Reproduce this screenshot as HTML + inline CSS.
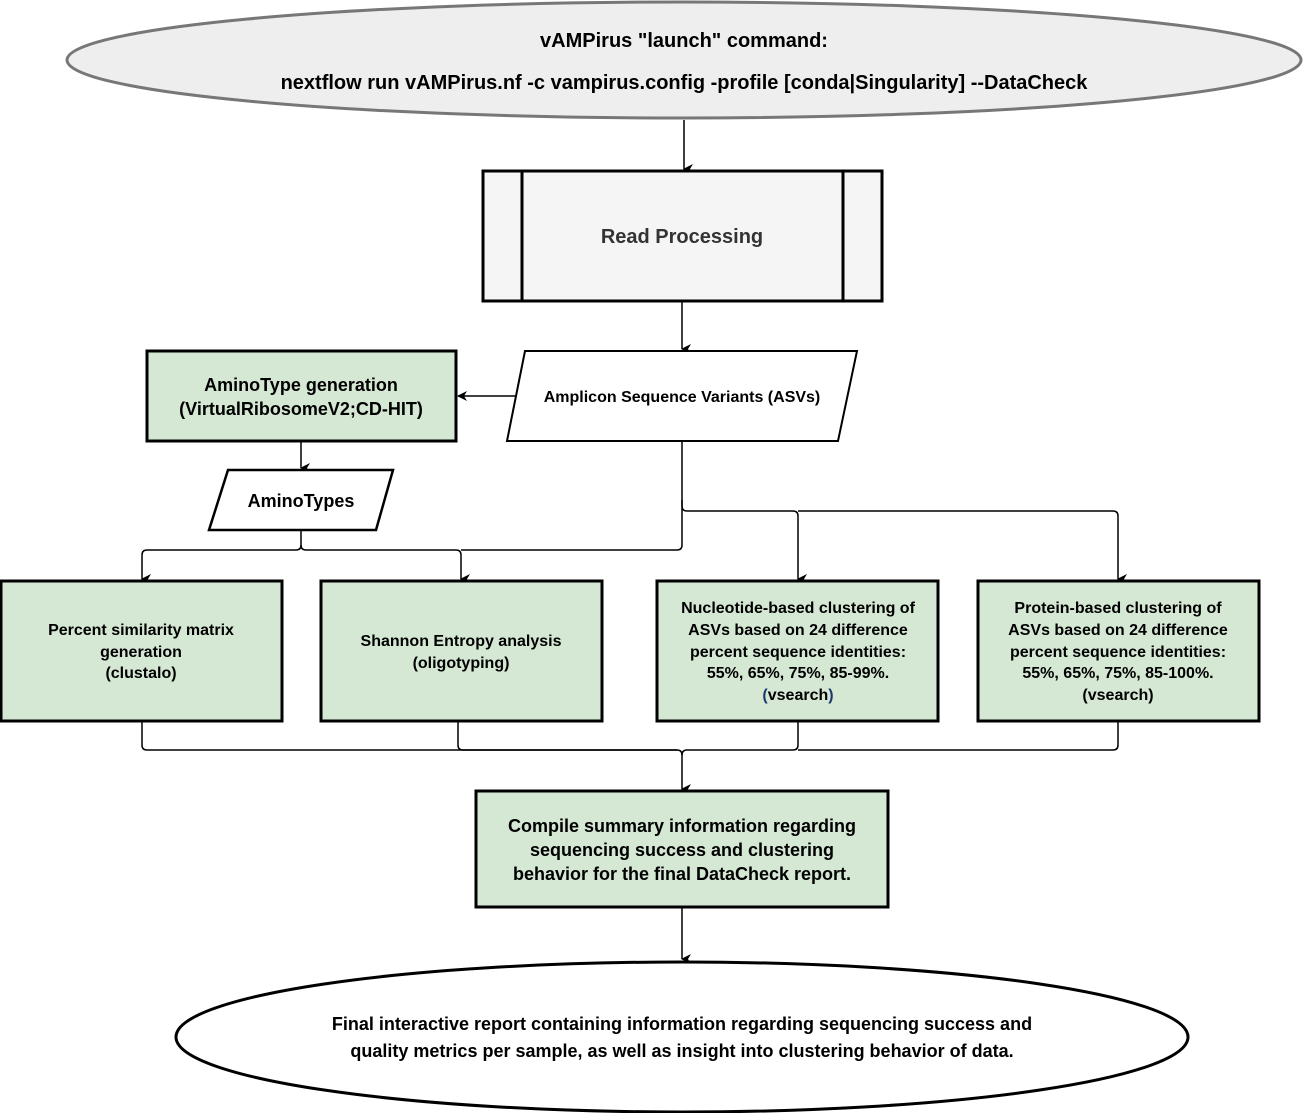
<!DOCTYPE html>
<html><head><meta charset="utf-8"><style>html,body{margin:0;padding:0;background:#fff}svg{display:block}text{font-family:"Liberation Sans",Arial,sans-serif;font-weight:bold;text-anchor:middle}</style></head>
<body>
<svg width="1303" height="1113" viewBox="0 0 1303 1113" xmlns="http://www.w3.org/2000/svg">
<defs><marker id="a" markerWidth="10" markerHeight="10" refX="5" refY="9" orient="auto" markerUnits="userSpaceOnUse" viewBox="0 0 10 10"><path d="M0,0 L5,10 L10,0 L5,3 Z" fill="#000"/></marker>
<marker id="b" markerWidth="10" markerHeight="10" refX="9" refY="5" orient="auto" markerUnits="userSpaceOnUse" viewBox="0 0 10 10"><path d="M0,0 L10,5 L0,10 L3,5 Z" fill="#000"/></marker></defs>
<ellipse cx="684" cy="60" rx="617" ry="58" fill="#eeeeee" stroke="#777" stroke-width="3"/>
<text x="684" y="47" font-size="20">vAMPirus "launch" command:</text>
<text x="684" y="89" font-size="20">nextflow run vAMPirus.nf -c vampirus.config -profile [conda|Singularity] --DataCheck</text>
<line x1="684" y1="120" x2="684" y2="169" stroke="#000" stroke-width="1.5" marker-end="url(#a)"/>
<rect x="483" y="171" width="399" height="130" fill="#f5f5f5" stroke="#000" stroke-width="3"/>
<line x1="522" y1="171" x2="522" y2="301" stroke="#000" stroke-width="3"/>
<line x1="843" y1="171" x2="843" y2="301" stroke="#000" stroke-width="3"/>
<text x="682" y="243" font-size="20" fill="#333">Read Processing</text>
<line x1="682" y1="301" x2="682" y2="349" stroke="#000" stroke-width="1.5" marker-end="url(#a)"/>
<polygon points="525,351 857,351 838,441 507,441" fill="#fff" stroke="#000" stroke-width="2"/>
<text x="682" y="402" font-size="16">Amplicon Sequence Variants (ASVs)</text>
<line x1="516" y1="396" x2="458" y2="396" stroke="#000" stroke-width="1.5" marker-end="url(#b)"/>
<rect x="147" y="351" width="309" height="90" fill="#d5e8d4" stroke="#000" stroke-width="3"/>
<text x="301" y="391" font-size="18">AminoType generation</text>
<text x="301" y="415" font-size="18">(VirtualRibosomeV2;CD-HIT)</text>
<line x1="301" y1="441" x2="301" y2="468" stroke="#000" stroke-width="1.5" marker-end="url(#a)"/>
<polygon points="228,470 393,470 376,530 209,530" fill="#fff" stroke="#000" stroke-width="2.5"/>
<text x="301" y="507" font-size="18">AminoTypes</text>
<g fill="none" stroke="#000" stroke-width="1.5">
<path d="M301,530 V545 Q301,550 296,550 H147 Q142,550 142,555 V579" marker-end="url(#a)"/>
<path d="M301,545 Q301,550 306,550 H456 Q461,550 461,555 V579" marker-end="url(#a)"/>
<path d="M682,441 V545 Q682,550 677,550 H461"/>
<path d="M682,500 V506 Q682,511 687,511 H793 Q798,511 798,516 V579" marker-end="url(#a)"/>
<path d="M798,511 H1113 Q1118,511 1118,516 V579" marker-end="url(#a)"/>
<path d="M142,721 V745 Q142,750 147,750 H677 Q682,750 682,755 V789" marker-end="url(#a)"/>
<path d="M458,721 V745 Q458,750 463,750 H677"/>
<path d="M798,721 V745 Q798,750 793,750 H687 Q682,750 682,755"/>
<path d="M1118,721 V745 Q1118,750 1113,750 H798"/>
<line x1="682" y1="907" x2="682" y2="959" marker-end="url(#a)"/>
</g>
<g fill="#d5e8d4" stroke="#000" stroke-width="3">
<rect x="1" y="581" width="281" height="140"/>
<rect x="321" y="581" width="281" height="140"/>
<rect x="657" y="581" width="281" height="140"/>
<rect x="978" y="581" width="281" height="140"/>
<rect x="476" y="791" width="412" height="116"/>
</g>
<g font-size="16">
<text x="141" y="635">Percent similarity matrix</text>
<text x="141" y="657">generation</text>
<text x="141" y="678">(clustalo)</text>
<text x="461" y="646">Shannon Entropy analysis</text>
<text x="461" y="668">(oligotyping)</text>
<text x="798" y="613">Nucleotide-based clustering of</text>
<text x="798" y="635">ASVs based on 24 difference</text>
<text x="798" y="657">percent sequence identities:</text>
<text x="798" y="678">55%, 65%, 75%, 85-99%.</text>
<text x="798" y="700"><tspan fill="#1a3a6b">(</tspan>vsearch<tspan fill="#1a3a6b">)</tspan></text>
<text x="1118" y="613">Protein-based clustering of</text>
<text x="1118" y="635">ASVs based on 24 difference</text>
<text x="1118" y="657">percent sequence identities:</text>
<text x="1118" y="678">55%, 65%, 75%, 85-100%.</text>
<text x="1118" y="700">(vsearch)</text>
</g>
<g font-size="18">
<text x="682" y="832">Compile summary information regarding</text>
<text x="682" y="856">sequencing success and clustering</text>
<text x="682" y="880">behavior for the final DataCheck report.</text>
</g>
<ellipse cx="682" cy="1037" rx="506" ry="75" fill="#fff" stroke="#000" stroke-width="3"/>
<text x="682" y="1030" font-size="18">Final interactive report containing information regarding sequencing success and</text>
<text x="682" y="1057" font-size="18">quality metrics per sample, as well as insight into clustering behavior of data.</text>
</svg>
</body></html>
